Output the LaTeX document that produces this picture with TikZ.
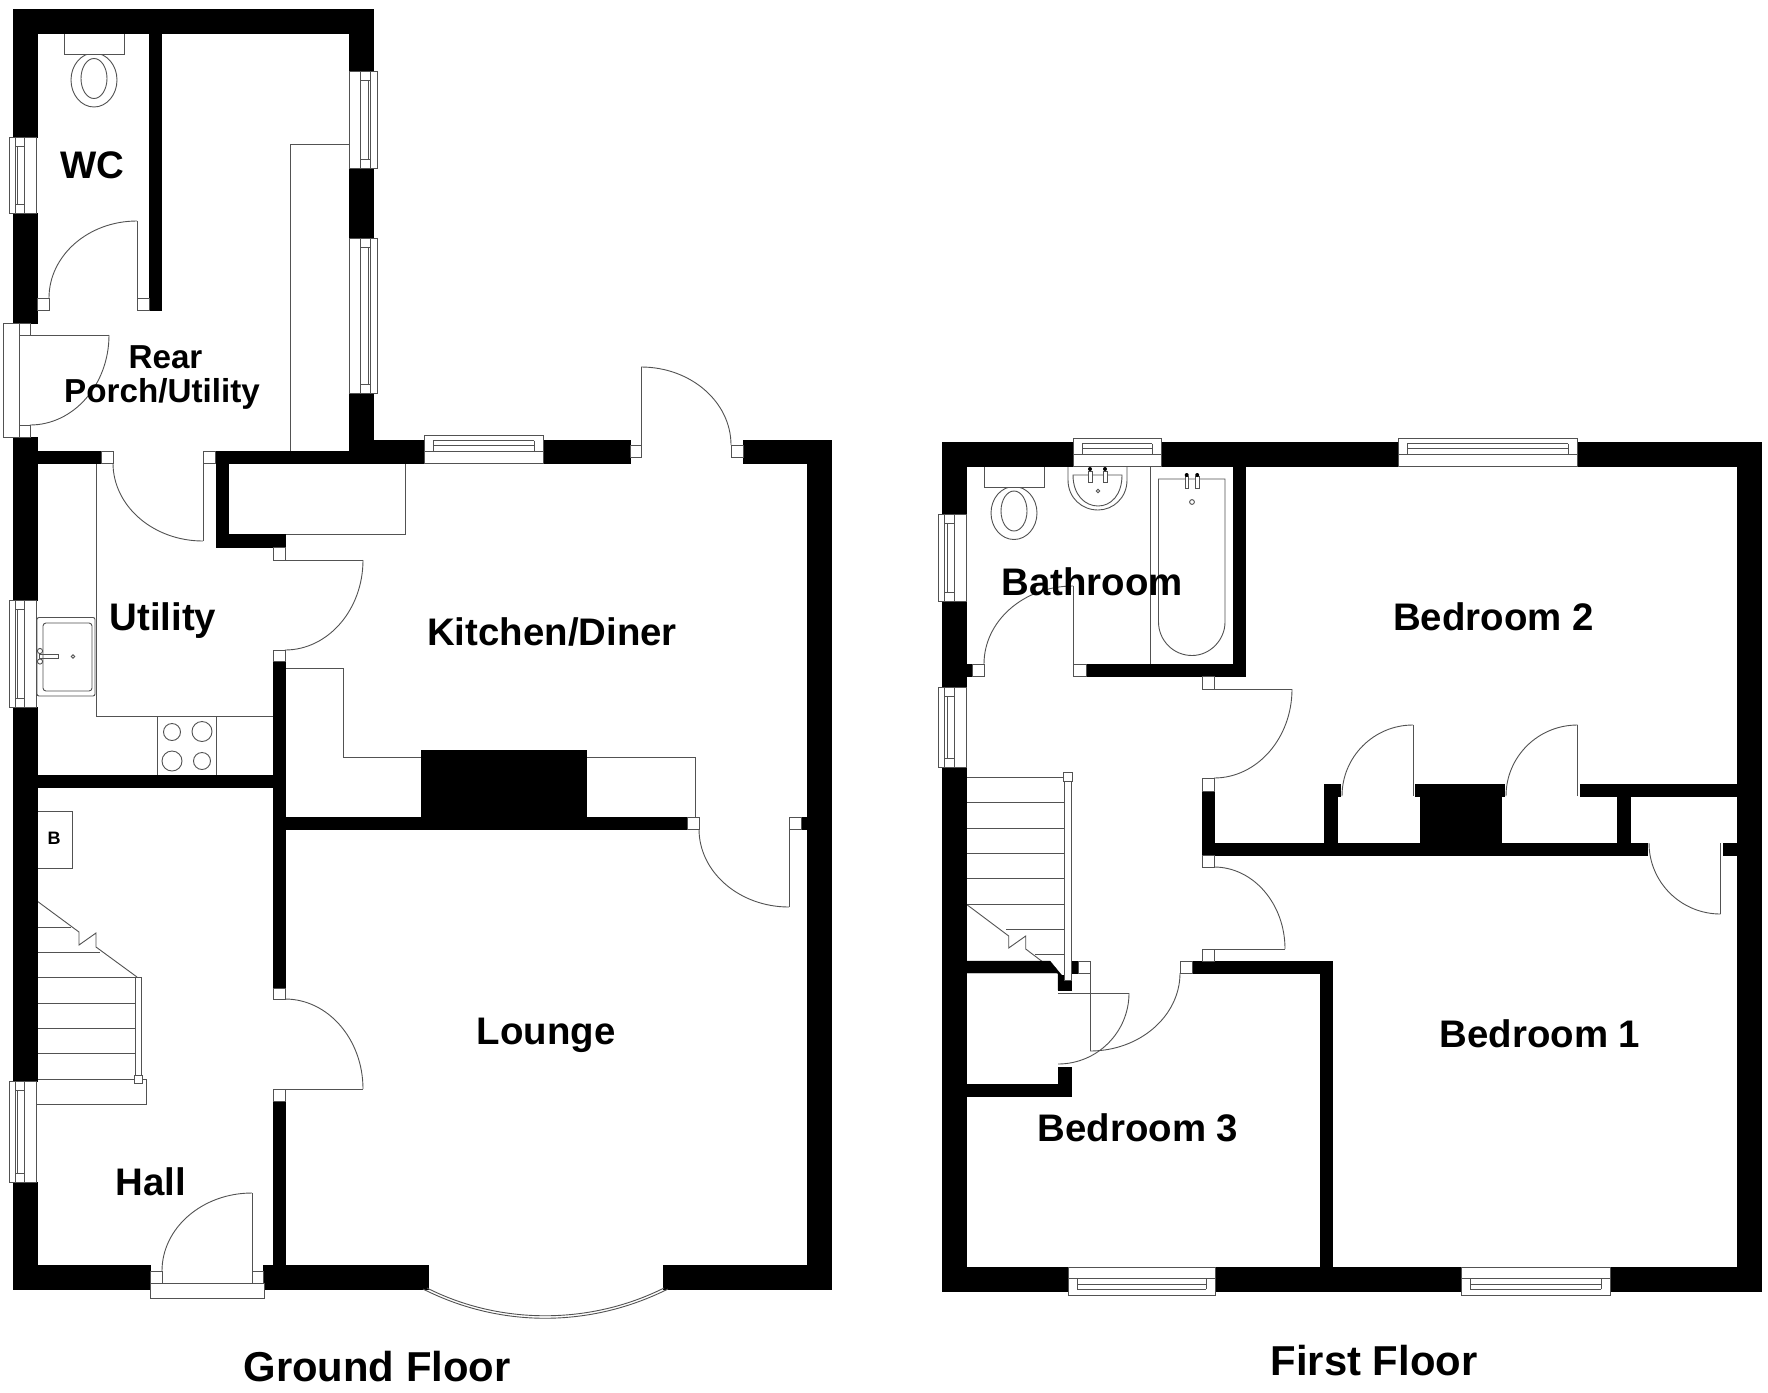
\documentclass[tikz,border=0pt]{standalone}
\usepackage{fontspec}
\setmainfont{Liberation Sans}
\tikzset{
  wall/.style={fill=black,draw=black,line width=0.3pt},
  fin/.style={draw=black!68,line width=0.9pt,line join=miter},
  finw/.style={fin,fill=white},
  lab/.style={font=\fontsize{38.4}{40}\selectfont\bfseries,anchor=base,inner sep=0pt,text=black},
  labs/.style={font=\fontsize{33.2}{36}\selectfont\bfseries,anchor=base,inner sep=0pt,text=black},
  labt/.style={font=\fontsize{41.8}{44}\selectfont\bfseries,anchor=base,inner sep=0pt,text=black}
}
\newcommand\wl[4]{\fill[wall] (#1,#2) rectangle (#3,#4);}
\newcommand\sq[4]{\draw[finw] (#1,#2) rectangle (#3,#4);}
\newcommand\qav[4]{%
 \pgfmathsetmacro\cax{#1}\pgfmathsetmacro\cay{#2+0.5523*(#4-#2)}%
 \pgfmathsetmacro\cbx{#3-0.5523*(#3-#1)}\pgfmathsetmacro\cby{#4}%
 \draw[fin] (#1,#2) .. controls (\cax,\cay) and (\cbx,\cby) .. (#3,#4);}
\newcommand\winV[4]{% outer x, inner x, top y, bottom y
 \pgfmathsetmacro\wa{#1+0.24*(#2-#1)}\pgfmathsetmacro\wb{#1+0.59*(#2-#1)}\pgfmathsetmacro\wc{#1+0.32*(#2-#1)}%
 \pgfmathsetmacro\wt{#3+9}\pgfmathsetmacro\wu{#4-9}%
 \draw[finw] (#1,#3) rectangle (#2,#4);
 \draw[fin] (\wa,#3) -- (\wa,#4) (\wb,#3) -- (\wb,#4) (\wa,\wt) -- (\wb,\wt) (\wa,\wu) -- (\wb,\wu) (\wc,\wt) -- (\wc,\wu);}
\newcommand\winH[4]{% left x, right x, outer y, inner y
 \pgfmathsetmacro\wa{#3+0.2*(#4-#3)}\pgfmathsetmacro\wb{#3+0.59*(#4-#3)}\pgfmathsetmacro\wc{#3+0.36*(#4-#3)}%
 \pgfmathsetmacro\wt{#1+9}\pgfmathsetmacro\wu{#2-9}%
 \draw[finw] (#1,#3) rectangle (#2,#4);
 \draw[fin] (#1,\wb) -- (#2,\wb) (\wt,\wa) -- (\wu,\wa) (\wt,\wa) -- (\wt,\wb) (\wu,\wa) -- (\wu,\wb) (\wt,\wc) -- (\wu,\wc);}
\begin{document}
\begin{tikzpicture}[x=1pt,y=-1pt]
\useasboundingbox (0,0) rectangle (1768,1392);
\fill[white] (0,0) rectangle (1768,1392);

% ===== GROUND FLOOR fittings under walls =====
\draw[fin] (290,451) -- (290,144) -- (349,144);
\draw[fin] (96,463) -- (96,716) -- (273,716);
\draw[fin] (405,463) -- (405,534) -- (285,534);
\draw[fin] (285,668) -- (343.5,668) -- (343.5,757.5) -- (421,757.5);
\draw[fin] (586,757.5) -- (695,757.5) -- (695,817);
% cooker
\draw[fin] (157,716) rectangle (216.5,775);
\draw[fin] (172,732) circle[radius=8.5] (202,731.5) circle[radius=10] (172,761) circle[radius=10] (202,761) circle[radius=8.5];
% sink
\draw[fin,rounded corners=2pt] (37,617.5) rectangle (95,696);
\draw[fin,rounded corners=3pt] (43,623) rectangle (92,691);
\draw[fin] (40,651) circle[radius=2.6] (40,661.5) circle[radius=2.6] (73,656.5) circle[radius=1.8];
\draw[fin] (39,654.5) rectangle (58,658.5);
% boiler
\draw[fin] (37,811) rectangle (72,868);
% WC ground
\draw[fin] (94,80) ellipse[x radius=23,y radius=27];
\draw[fin] (94,78.5) ellipse[x radius=13,y radius=20];
\draw[finw] (64,33) rectangle (124,54.5);
% stairs ground
\draw[fin] (37,901) -- (79,932) -- (79,945) -- (96,933) -- (96,947) -- (137,977);
\draw[fin] (37,927) -- (71,927) (37,952) -- (100,952) (37,977) -- (135,977) (37,1003) -- (135,1003) (37,1028) -- (135,1028) (37,1053) -- (135,1053);
\draw[fin] (135,977) -- (135,1079) (141,977) -- (141,1079) (135,977) -- (141,977);
\draw[fin] (37,1079) -- (146,1079) -- (146,1104) -- (37,1104);
\sq{134.5}{1075}{142}{1083}

% ===== GROUND FLOOR walls =====
\wl{13}{9}{373}{33}
\wl{149}{33}{161}{310}
\wl{13}{9}{37}{137}
\wl{13}{213}{37}{323}
\wl{13}{437}{37}{600}
\wl{13}{707}{37}{1081}
\wl{13}{1182}{37}{1289}
\wl{349}{9}{373}{71}
\wl{349}{168}{373}{238}
\wl{349}{393}{373}{463}
\wl{37}{451}{101}{463}
\wl{215}{451}{373}{463}
\wl{373}{440}{424}{463}
\wl{543}{440}{630}{463}
\wl{743}{440}{831}{463}
\wl{807}{440}{831}{1289}
\wl{216}{451}{228}{547}
\wl{216}{534}{285}{547}
\wl{273}{661}{285}{988}
\wl{273}{1101}{285}{1289}
\wl{37}{775}{273}{787}
\wl{285}{817}{687}{829}
\wl{421}{750}{586}{829}
\wl{801}{817}{807}{829}
\wl{13}{1265}{150}{1289}
\wl{263}{1265}{428}{1289}
\wl{663}{1265}{831}{1289}

% ===== GROUND FLOOR windows =====
\winV{9}{36}{137}{213}
\winV{9}{36}{600}{707}
\winV{9}{36}{1081}{1182}
\winV{377}{349}{71}{168}
\winV{377}{349}{238}{393}
\winH{424}{543}{435}{463}

% ===== GROUND FLOOR doors =====
% WC
\sq{37}{298}{49}{310}\sq{137}{298}{149}{310}
\draw[fin] (137,298) -- (137,221);
\qav{49}{298}{137}{221}
% rear door
\draw[finw] (3,323) rectangle (19,437);
\sq{19}{323}{30}{335}\sq{19}{425}{30}{437}
\draw[fin] (19,335) -- (109,335);
\qav{109}{335}{30}{425}
% porch to utility
\sq{101}{451}{113}{463}\sq{203}{451}{215}{463}
\draw[fin] (203,463) -- (203,541);
\qav{113}{463}{203}{541}
% utility to kitchen
\sq{273}{547}{285}{560}\sq{273}{650}{285}{661}
\draw[fin] (285,560) -- (363,560);
\qav{363}{560}{285}{650}
% hall to lounge
\sq{273}{988}{285}{999}\sq{273}{1089}{285}{1101}
\draw[fin] (285,1089) -- (363,1089);
\qav{363}{1089}{285}{999}
% kitchen to lounge
\sq{687}{817}{699}{829}\sq{789}{817}{801}{829}
\draw[fin] (789,829) -- (789,907);
\qav{699}{829}{789}{907}
% kitchen back door
\sq{630}{445}{641}{457}\sq{731}{445}{743}{457}
\draw[fin] (641,445) -- (641,367);
\qav{731}{445}{641}{367}
% front door
\draw[finw] (150,1283) rectangle (264,1298);
\sq{150}{1271}{162}{1283}\sq{252}{1271}{263}{1283}
\draw[fin] (252,1283) -- (252,1193);
\qav{162}{1271}{252}{1193}
% bay window
\draw[fin] (423,1289) .. controls (500,1328) and (590,1328) .. (668,1289);
\draw[fin] (427,1288) .. controls (500,1325) and (590,1325) .. (664,1288);

% ===== FIRST FLOOR fittings =====
\draw[fin] (1150,466) -- (1150,664);
\draw[fin] (1158.5,479) -- (1158.5,622) .. controls (1158.5,640) and (1173,655.5) .. (1192,655.5) .. controls (1210,655.5) and (1225,640) .. (1225,622) -- (1225,479) -- cycle;
\draw[finw] (1185,476) rectangle (1188.5,488) (1195.5,476) rectangle (1199,488);
\fill[black] (1186.7,475) circle[radius=2] (1197.2,475) circle[radius=2];
\draw[fin] (1192,502) circle[radius=2.4];
\draw[fin] (1014,513) ellipse[x radius=23,y radius=26.5];
\draw[fin] (1014,511) ellipse[x radius=13,y radius=20];
\draw[finw] (984,466) rectangle (1044,487.5);
\draw[fin] (1068,466) -- (1068,480) .. controls (1068,498) and (1082,510) .. (1098,510) .. controls (1113,510) and (1127,498) .. (1127,480) -- (1127,466);
\draw[fin] (1073,475) -- (1122,475) .. controls (1122,495) and (1111,506) .. (1098,506) .. controls (1085,506) and (1073,495) .. (1073,475) -- cycle;
\draw[finw] (1088,471) rectangle (1092,482) (1103,471) rectangle (1107,482);
\fill[black] (1090,469) circle[radius=2] (1105,469) circle[radius=2];
\draw[fin] (1098,491) circle[radius=1.8];
% stairs first
\draw[fin] (966,777) -- (1064,777) (966,802.3) -- (1064,802.3) (966,828) -- (1064,828) (966,853) -- (1064,853) (966,878.6) -- (1064,878.6) (966,904) -- (1064,904) (1006,929) -- (1064,929) (1035,954) -- (1064,954);
\draw[fin] (966,904) -- (1008.7,936) -- (1008.7,948) -- (1025.7,936) -- (1025.7,949) -- (1064,978);

% ===== FIRST FLOOR walls =====
\wl{942}{442}{1073}{466}
\wl{1161}{442}{1398}{466}
\wl{1577}{442}{1761}{466}
\wl{1737}{442}{1761}{1291}
\wl{942}{442}{966}{514}
\wl{942}{601}{966}{687}
\wl{942}{767}{966}{1291}
\wl{1233}{466}{1245}{676}
\wl{1086}{664}{1245}{676}
\wl{966}{664}{972}{676}
\wl{1202}{791}{1214}{855}
\wl{1202}{843}{1647}{855}
\wl{1723}{843}{1737}{855}
\wl{1324}{784}{1337}{843}
\wl{1324}{784}{1340}{796}
\wl{1415.5}{784}{1504}{796}
\wl{1420}{796}{1501}{843}
\wl{1580.5}{784}{1737}{796}
\wl{1617}{796}{1630}{843}
\wl{1192}{961}{1332}{973}
\wl{1320}{961}{1332}{1291}
\fill[wall] (966,961) -- (1050,961) -- (1064,978) -- (1064,990) -- (1058,990) -- (1058,973) -- (966,973) -- cycle;
\wl{1058}{975}{1071}{990}
\wl{1071}{961}{1078}{973}
\wl{1058}{1067}{1071}{1096}
\wl{966}{1084}{1071}{1096}
\wl{942}{1267}{1068}{1291}
\wl{1215}{1267}{1461}{1291}
\wl{1610}{1267}{1761}{1291}

% ===== FIRST FLOOR windows =====
\winV{938}{966}{514}{601}
\winV{938}{966}{687}{767}
\winH{1073}{1161}{438}{466}
\winH{1398}{1577}{438}{466}
\winH{1068}{1215}{1295}{1267}
\winH{1461}{1610}{1295}{1267}

% ===== stair rail =====
\draw[finw] (1064,777) rectangle (1071,980);
\sq{1063}{772}{1072}{781}

% ===== FIRST FLOOR doors =====
% bathroom
\sq{972}{664}{984}{676}\sq{1073}{664}{1086}{676}
\draw[fin] (1073,664) -- (1073,586);
\qav{984}{664}{1073}{586}
% bedroom 2
\sq{1202}{676}{1214}{689}\sq{1202}{778}{1214}{791}
\draw[fin] (1214,689) -- (1292,689);
\qav{1292}{689}{1214}{778}
% bedroom 1
\sq{1202}{855}{1214}{867}\sq{1202}{949}{1214}{961}
\draw[fin] (1214,949) -- (1285,949);
\qav{1285}{949}{1214}{867}
% bedroom 2 cupboards
\draw[fin] (1413,796) -- (1413,725);
\qav{1342}{796}{1413}{725}
\draw[fin] (1577.5,796) -- (1577.5,725);
\qav{1506}{796}{1577.5}{725}
% bedroom 1 cupboard
\draw[fin] (1720.5,843) -- (1720.5,914);
\qav{1649}{843}{1720.5}{914}
% bedroom 3
\sq{1078}{961}{1090}{973}\sq{1180}{961}{1192}{973}
\draw[fin] (1090,973) -- (1090,1051);
\qav{1180}{973}{1090}{1051}
% landing cupboard
\draw[fin] (1058,993) -- (1129,993);
\qav{1129}{993}{1058}{1064}

% ===== labels =====
\node[lab] (wc) at (92,178) {WC};
\node[labs] (rear) at (165.5,368) {Rear};
\node[labs] (porch) at (162,402) {Porch/Utility};
\node[lab] (utility) at (163,630) {Utility};
\node[lab] (kitchen) at (552,645) {Kitchen/Diner};
\node[lab] (lounge) at (546,1044.5) {Lounge};
\node[lab] (hall) at (151,1195) {Hall};
\node[font=\fontsize{18}{20}\selectfont\bfseries,inner sep=0pt] (boiler) at (54,838) {B};
\node[lab] (bathroom) at (1092,595) {Bathroom};
\node[lab] (bed2) at (1493.5,630) {Bedroom 2};
\node[lab] (bed1) at (1540,1047) {Bedroom 1};
\node[lab] (bed3) at (1138,1141.5) {Bedroom 3};
\node[labt] (gf) at (377,1381) {Ground Floor};
\node[labt] (ff) at (1374,1375) {First Floor};
\end{tikzpicture}
\end{document}
